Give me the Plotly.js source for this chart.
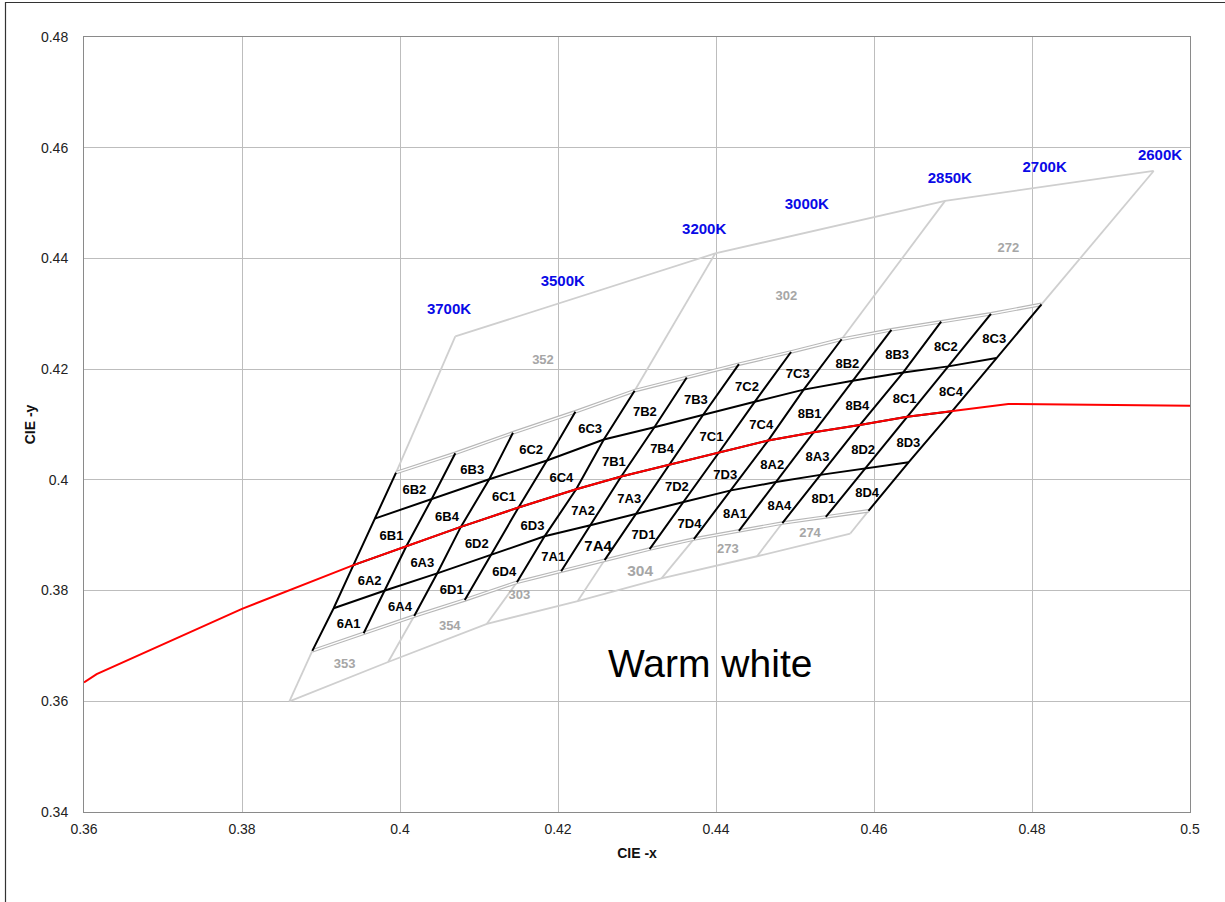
<!DOCTYPE html>
<html>
<head>
<meta charset="utf-8">
<script src="https://cdn.plot.ly/plotly-3.0.1.min.js"></script>
<style>html,body{margin:0;padding:0;background:#fff;}#chart{width:1225px;height:902px;}</style>
</head>
<body>
<div id="chart"></div>
<script>
// ---- Binning grid vertices (13 isotemperature lines x 5 boundary curves), CIE x / y ----
const row0X = [0.3889, 0.3954, 0.4018, 0.4082, 0.4148, 0.4204, 0.4259, 0.4316, 0.4372, 0.4429, 0.4484, 0.4539, 0.4593];
const row0Y = [0.3691, 0.3723, 0.3754, 0.3783, 0.3815, 0.3835, 0.3855, 0.3875, 0.3893, 0.3908, 0.3922, 0.3933, 0.3944];
const row1X = [0.3916, 0.3981, 0.4047, 0.4115, 0.4183, 0.4241, 0.4299, 0.4359, 0.4419, 0.4476, 0.4532, 0.4589, 0.4644];
const row1Y = [0.3768, 0.3800, 0.3831, 0.3864, 0.3898, 0.3918, 0.3939, 0.3960, 0.3981, 0.3996, 0.4009, 0.4021, 0.4032];
const row2X = [0.3941, 0.4008, 0.4077, 0.4150, 0.4223, 0.4280, 0.4341, 0.4403, 0.4466, 0.4524, 0.4582, 0.4642, 0.4699];
const row2Y = [0.3846, 0.3880, 0.3915, 0.3950, 0.3983, 0.4006, 0.4027, 0.4048, 0.4071, 0.4086, 0.4099, 0.4114, 0.4124];
const row3X = [0.3968, 0.4040, 0.4113, 0.4186, 0.4258, 0.4322, 0.4384, 0.4449, 0.4511, 0.4573, 0.4637, 0.4694, 0.4755];
const row3Y = [0.3930, 0.3965, 0.4001, 0.4035, 0.4073, 0.4095, 0.4118, 0.4141, 0.4163, 0.4179, 0.4194, 0.4205, 0.4220];
const row4X = [0.3995, 0.4070, 0.4143, 0.4222, 0.4297, 0.4363, 0.4429, 0.4495, 0.4559, 0.4622, 0.4685, 0.4748, 0.4812];
const row4Y = [0.4013, 0.4048, 0.4085, 0.4123, 0.4161, 0.4185, 0.4209, 0.4231, 0.4254, 0.4271, 0.4286, 0.4300, 0.4317];

// ---- Bin names, rows bottom -> top, columns left -> right ----
const binRow0 = ['6A1','6A4','6D1','6D4','7A1','7A4','7D1','7D4','8A1','8A4','8D1','8D4'];
const binRow1 = ['6A2','6A3','6D2','6D3','7A2','7A3','7D2','7D3','8A2','8A3','8D2','8D3'];
const binRow2 = ['6B1','6B4','6C1','6C4','7B1','7B4','7C1','7C4','8B1','8B4','8C1','8C4'];
const binRow3 = ['6B2','6B3','6C2','6C3','7B2','7B3','7C2','7C3','8B2','8B3','8C2','8C3'];

// ---- ANSI quadrangle outlines (grey) ----
const ansiTopX = [0.4070, 0.4399, 0.4690, 0.4954];
const ansiTopY = [0.4259, 0.4409, 0.4504, 0.4558];
const ansiTopIdx = [0, 4, 8, 12];
const ansiBottomX = [0.3860, 0.3985, 0.4110, 0.4225, 0.4331, 0.4452, 0.4570];
const ansiBottomY = [0.3600, 0.3671, 0.3740, 0.3781, 0.3822, 0.3862, 0.3903];
const ansiBottomIdx = [0, 2, 4, 6, 8, 10, 12];

const ansiNames = ['352','302','272','353','354','303','304','273','274'];
const ansiNameX = [0.4181, 0.4489, 0.4770, 0.3930, 0.4063, 0.4151, 0.4304, 0.4415, 0.4519];
const ansiNameY = [0.4216, 0.4330, 0.4417, 0.3666, 0.3734, 0.3790, 0.3834, 0.3873, 0.3902];

const cctNames = ['3700K','3500K','3200K','3000K','2850K','2700K','2600K'];
const cctX = [0.4062, 0.4206, 0.4385, 0.4515, 0.4696, 0.4816, 0.4962];
const cctY = [0.4307, 0.4357, 0.4451, 0.4496, 0.4543, 0.4563, 0.4585];

// ---- Planckian locus (red) outside the grid ----
const planckLeftX = [0.3600, 0.3616, 0.3800];
const planckLeftY = [0.3634, 0.3649, 0.3767];
const planckRightX = [0.4770, 0.5000];
const planckRightY = [0.4137, 0.4134];

// ---------------------------------------------------------------
const rowsX = [row0X, row1X, row2X, row3X, row4X];
const rowsY = [row0Y, row1Y, row2Y, row3Y, row4Y];
const binRows = [binRow0, binRow1, binRow2, binRow3];
const nD = row0X.length;

// grey outline
const gX = [], gY = [];
ansiTopX.forEach((v,i)=>{gX.push(v); gY.push(ansiTopY[i]);}); gX.push(null); gY.push(null);
ansiBottomX.forEach((v,i)=>{gX.push(v); gY.push(ansiBottomY[i]);}); gX.push(null); gY.push(null);
ansiTopIdx.forEach((d,i)=>{gX.push(row4X[d], ansiTopX[i], null); gY.push(row4Y[d], ansiTopY[i], null);});
ansiBottomIdx.forEach((d,i)=>{gX.push(row0X[d], ansiBottomX[i], null); gY.push(row0Y[d], ansiBottomY[i], null);});

// grid outer boundaries (double grey)
const bX = [...row4X, null, ...row0X];
const bY = [...row4Y, null, ...row0Y];

// black lines
const kX = [], kY = [];
[1,2,3].forEach(r=>{kX.push(...rowsX[r], null); kY.push(...rowsY[r], null);});
for (let d=0; d<nD; d++) {
  for (let r=0; r<5; r++) { kX.push(rowsX[r][d]); kY.push(rowsY[r][d]); }
  kX.push(null); kY.push(null);
}

// bin label positions = centroid of the cell corners (slightly lowered, like the original)
const LABEL_DROP = 0.0008;
const lX = [], lY = [], lT = [], lS = [];
for (let r=0; r<4; r++) {
  for (let c=0; c<nD-1; c++) {
    lX.push((rowsX[r][c]+rowsX[r][c+1]+rowsX[r+1][c]+rowsX[r+1][c+1])/4);
    lY.push((rowsY[r][c]+rowsY[r][c+1]+rowsY[r+1][c]+rowsY[r+1][c+1])/4 - LABEL_DROP);
    lT.push(binRows[r][c]);
    lS.push(binRows[r][c] === '7A4' ? 15 : 13);
  }
}

const redX = [...planckLeftX, ...row2X, ...planckRightX];
const redY = [...planckLeftY, ...row2Y, ...planckRightY];

const FONT = 'Arial, "Liberation Sans", Helvetica, sans-serif';

const traces = [
  {x:gX, y:gY, mode:'lines', line:{color:'#cfcfcf', width:1.8}, hoverinfo:'skip'},
  {x:bX, y:bY, mode:'lines', line:{color:'#b8b8b8', width:3.6}, hoverinfo:'skip'},
  {x:bX, y:bY, mode:'lines', line:{color:'#ffffff', width:1.3}, hoverinfo:'skip'},
  {x:kX, y:kY, mode:'lines', line:{color:'#000000', width:2}, hoverinfo:'skip'},
  {x:redX, y:redY, mode:'lines', line:{color:'#ff0000', width:2}, hoverinfo:'skip'},
  {x:lX, y:lY, mode:'text', text:lT.map(t=>'<b>'+t+'</b>'), textposition:'middle center',
   textfont:{family:FONT, size:lS, color:'#000'}, hoverinfo:'skip'},
  {x:ansiNameX, y:ansiNameY, mode:'text', text:ansiNames.map(t=>'<b>'+t+'</b>'), textposition:'middle center',
   textfont:{family:FONT, size:ansiNames.map(t=>t==='304'?15.5:13), color:'#a6a6a6'}, hoverinfo:'skip'},
  {x:cctX, y:cctY, mode:'text', text:cctNames.map(t=>'<b>'+t+'</b>'), textposition:'middle center',
   textfont:{family:FONT, size:15, color:'#0a0ae6'}, hoverinfo:'skip'}
];

const W = 1225, H = 902, L = 84, R = 35, T = 37, B = 90;
const pw = W-L-R, ph = H-T-B;
const px = p => (p-L)/pw, py = p => (H-B-p)/ph;

const layout = {
  width: W, height: H,
  margin: {l:L, r:R, t:T, b:B, pad:0},
  paper_bgcolor:'#fff', plot_bgcolor:'#fff',
  showlegend:false, hovermode:false,
  font:{family:FONT, size:14, color:'#222'},
  xaxis:{range:[0.36,0.5], tick0:0.36, dtick:0.02, showgrid:true, gridcolor:'#bdbdbd', gridwidth:1,
         zeroline:false, showline:true, linecolor:'#8a8a8a', linewidth:1, mirror:true, ticks:'',
         tickfont:{size:14, color:'#222'}, ticklabelstandoff:4, fixedrange:true,
         title:{text:'<b>CIE -x</b>', font:{size:14, color:'#111'}, standoff:12}},
  yaxis:{range:[0.34,0.48], tick0:0.34, dtick:0.02, showgrid:true, gridcolor:'#bdbdbd', gridwidth:1,
         zeroline:false, showline:true, linecolor:'#8a8a8a', linewidth:1, mirror:true, ticks:'',
         tickfont:{size:14, color:'#222'}, ticklabelstandoff:12, fixedrange:true,
         title:{text:'<b>CIE -y</b>', font:{size:14, color:'#111'}, standoff:2}},
  annotations:[
    {x:0.4392, y:0.3669, xref:'x', yref:'y', text:'Warm white', showarrow:false,
     font:{family:FONT, size:39, color:'#000'}, xanchor:'center', yanchor:'middle'}
  ],
  shapes:[
    {type:'path', xref:'paper', yref:'paper',
     path:'M '+px(5.5)+' '+py(905)+' L '+px(5.5)+' '+py(2.5)+' L '+px(1230)+' '+py(2.5),
     line:{color:'#333', width:1.2}}
  ]
};

Plotly.newPlot('chart', traces, layout, {displayModeBar:false, staticPlot:true});
</script>
</body>
</html>
